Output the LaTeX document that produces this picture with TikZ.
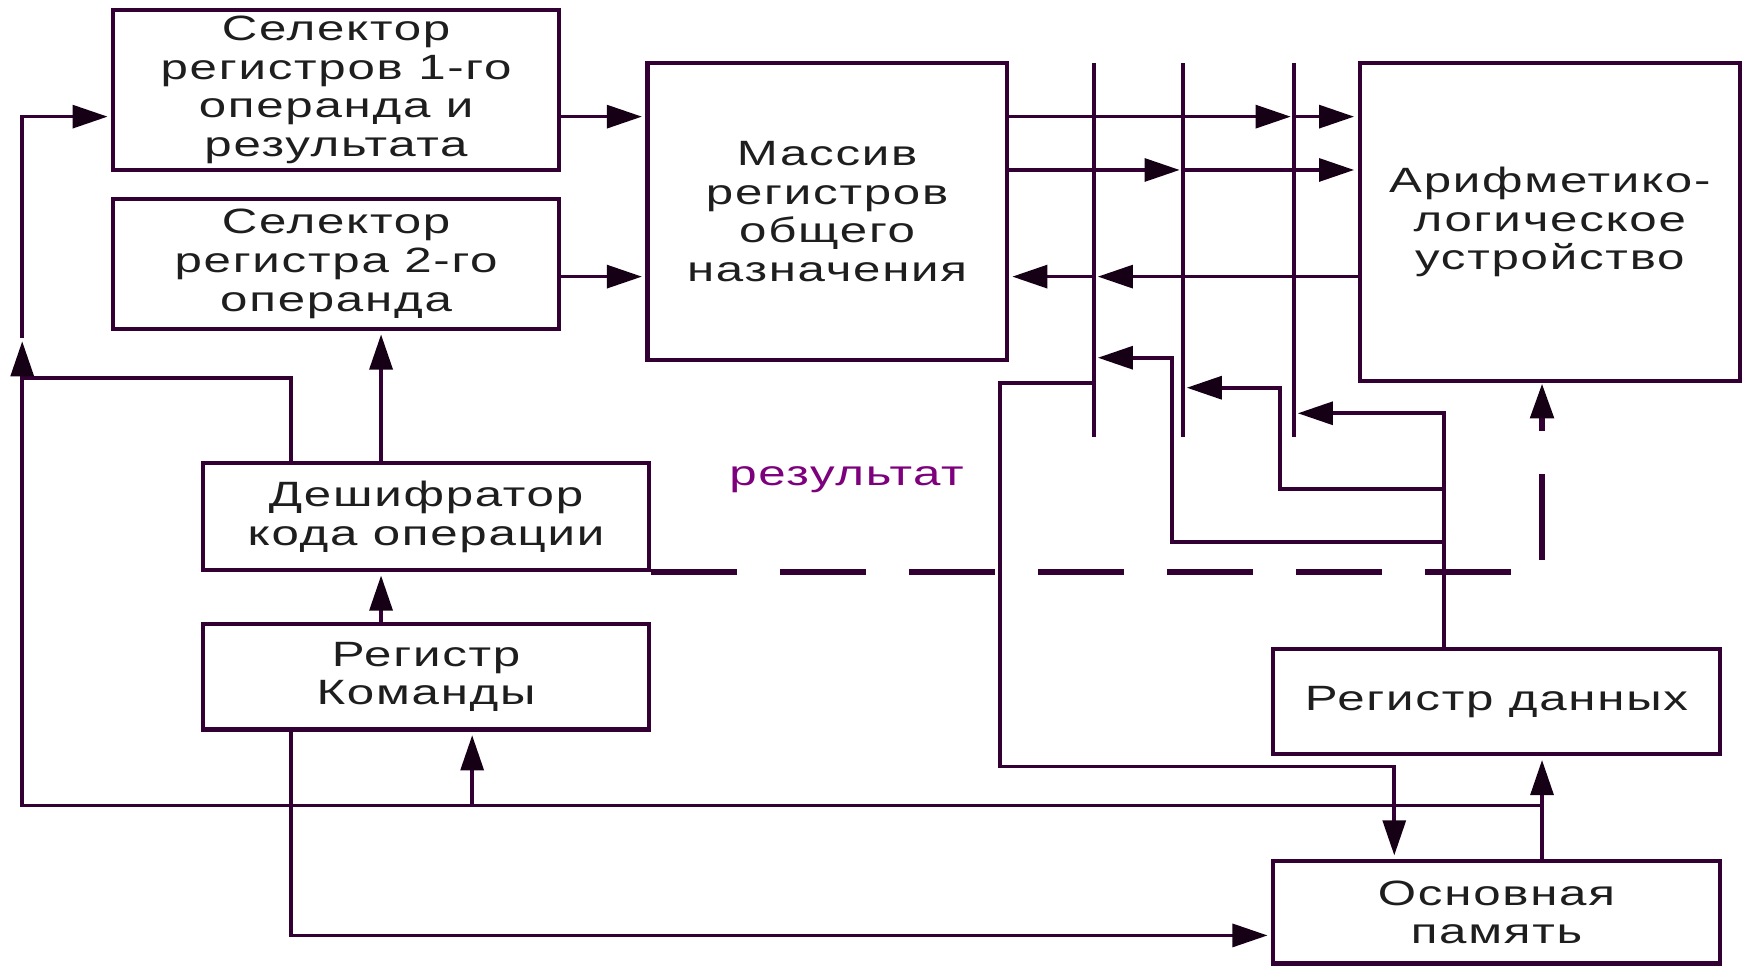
\documentclass[tikz,border=0pt]{standalone}
\usepackage{fontspec}
\setmainfont{Liberation Sans}[FakeStretch=1.4,LetterSpace=5]
\usetikzlibrary{arrows.meta, positioning}
\definecolor{linec}{RGB}{50,0,50}
\definecolor{tipc}{RGB}{22,0,22}
\definecolor{ink}{RGB}{30,30,30}
\definecolor{resc}{RGB}{125,0,125}

\begin{document}
\begin{tikzpicture}[x=0.02222cm, y=-0.02222cm,
    blk/.style={rectangle, draw=linec, line width=2.4pt, align=center, inner sep=0pt, text=ink, font=\fontsize{20}{22}\selectfont},
    wire/.style={draw=linec, line width=2.1pt},
    arr/.style={wire, shorten >=2pt, -{Triangle[length=20pt, width=13pt, color=tipc]}},
    busline/.style={draw=linec, line width=2.3pt},
    ctrl/.style={draw=linec, line width=3.4pt, dash pattern=on 48.7pt off 24.7pt, -{Triangle[length=20pt, width=13pt, color=tipc]}}]
    \useasboundingbox (0,0) rectangle (1568,870);

    % rows and columns of the wiring
    \foreach \n/\v in {r1/105, r2/153, r3/249, rA/322, rB/349, rC/372, rD/345, rE/440, rF/488, rG/340, rH/690, rI/725, rJ/842, rK/304, bt/57, bb/393}
        \coordinate (\n) at (0,\v);
    \foreach \n/\v in {cL/20, cDa/262, cDb/343, cRc/425, cM/900, b1/985, b2/1065, b3/1165, cB1/1055, cB2/1152, cR/1300, cMw/1255, cMr/1388}
        \coordinate (\n) at (\v,0);

    \node[blk, minimum width=8.91cm, minimum height=3.2cm] (sel1) at (302.5,81) {Селектор\\регистров 1-го\\операнда и\\результата};
    \node[blk, minimum width=8.91cm, minimum height=2.6cm, below=0.49cm of sel1] (sel2) {Селектор\\регистра 2-го\\операнда};
    \node[blk, minimum width=7.18cm, minimum height=5.93cm] (mron) at (744.5,190.5) {Массив\\регистров\\общего\\назначения};
    \node[blk, minimum width=7.6cm, minimum height=6.36cm] (alu) at (1395,200) {Арифметико-\\логическое\\устройство};
    \node[blk, minimum width=8.91cm, minimum height=2.13cm] (dec) at (383.5,465) {Дешифратор\\кода операции};
    \node[blk, minimum width=8.91cm, minimum height=2.11cm, below=1.0cm of dec] (rcmd) {Регистр\\Команды};
    \node[blk, minimum width=8.93cm, minimum height=2.11cm] (rdat) at (1347,631.5) {Регистр данных};
    \node[blk, minimum width=8.93cm, minimum height=2.05cm, below=2.05cm of rdat] (mem) {Основная\\память};
    \node[font=\fontsize{20}{22}\selectfont, text=resc] (res) at (762,432) {результат};

    % buses
    \foreach \b in {b1,b2,b3}
        \draw[busline] (\b |- bt) -- (\b |- bb);

    % selectors into the register array
    \draw[arr] (sel1.east |- r1) -- (mron.west |- r1);
    \draw[arr] (sel2.east |- r3) -- (mron.west |- r3);
    % register array and ALU over the buses
    \draw[arr] (mron.east |- r1) -- (b3 |- r1);
    \draw[arr] (b3 |- r1) -- (alu.west |- r1);
    \draw[arr] (mron.east |- r2) -- (b2 |- r2);
    \draw[arr] (b2 |- r2) -- (alu.west |- r2);
    \draw[arr] (alu.west |- r3) -- (b1 |- r3);
    \draw[arr] (b1 |- r3) -- (mron.east |- r3);
    % data register back onto the buses
    \draw[arr] (rdat.north -| cR) |- (b3 |- rC);
    \draw[arr] (cR |- rE) -| (cB2 |- rB) -- (b2 |- rB);
    \draw[arr] (cR |- rF) -| (cB1 |- rA) -- (b1 |- rA);
    % bus to memory and memory to data register
    \draw[arr] (b1 |- rD) -| (cM |- rH) -| (mem.north -| cMw);
    \draw[arr] (mem.north -| cMr) -- (rdat.south -| cMr);
    % left side
    \draw[wire] (cMr |- rI) -| (cL |- rG);
    \draw[wire] (dec.north -| cDa) |- (cL |- rG);
    \draw[arr] (cL |- rG) -- (cL |- rK);
    \draw[arr] (cL |- rK) |- (sel1.west |- r1);
    \draw[arr] (dec.north -| cDb) -- (sel2.south -| cDb);
    \draw[arr] (rcmd.north -| cDb) -- (dec.south -| cDb);
    \draw[arr] (cRc |- rI) -- (rcmd.south -| cRc);
    \draw[arr] (rcmd.south -| cDa) |- (mem.west |- rJ);
    % operation code to the ALU
    \draw[ctrl] (dec.south east) -| (alu.south -| cMr);
\end{tikzpicture}
\end{document}
